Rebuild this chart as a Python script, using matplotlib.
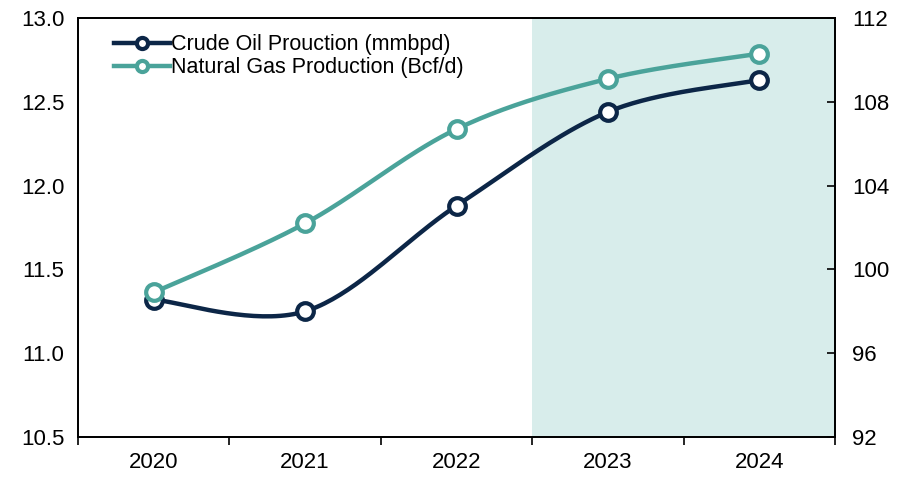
import numpy as np
import matplotlib
matplotlib.use("Agg")
import matplotlib.pyplot as plt
from matplotlib.lines import Line2D

plt.rcParams['font.family'] = ['Liberation Sans', 'DejaVu Sans']

# data
years = ["2020", "2021", "2022", "2023", "2024"]
crude_oil = [11.32, 11.25, 11.88, 12.44, 12.63]     # mmbpd, left axis
natural_gas = [98.9, 102.2, 106.7, 109.1, 110.3]    # Bcf/d, right axis
forecast_from = 3  # shaded region starts between 2022 and 2023

navy = "#0c2647"
teal = "#4aa39a"
shade = "#d8edeb"


def smooth(x, y, n=40):
    '''Excel-style smoothed line (Catmull-Rom through every point)'''
    p = np.column_stack([x, y]).astype(float)
    pts = np.vstack([p[0], p, p[-1]])
    out = []
    t = np.linspace(0, 1, n)[:, None]
    for i in range(1, len(pts) - 2):
        p0, p1, p2, p3 = pts[i - 1], pts[i], pts[i + 1], pts[i + 2]
        c1 = p1 + (p2 - p0) / 6
        c2 = p2 - (p3 - p1) / 6
        seg = ((1 - t) ** 3) * p1 + 3 * ((1 - t) ** 2) * t * c1 + 3 * (1 - t) * t ** 2 * c2 + t ** 3 * p2
        out.append(seg if i == 1 else seg[1:])
    out = np.vstack(out)
    return out[:, 0], out[:, 1]


fig = plt.figure(figsize=(8.98, 4.78), dpi=100)
ax = fig.add_axes([0.0869, 0.0858, 0.8431, 0.8765])
ax2 = ax.twinx()

x = np.arange(len(years))
ax.axvspan(forecast_from - 0.5, len(years) - 0.5, color=shade, lw=0, zorder=0)

sx, sy = smooth(x, crude_oil)
ax.plot(sx, sy, color=navy, lw=3.2, solid_capstyle='round', zorder=3)
ax.plot(x, crude_oil, 'o', ms=12, mfc='white', mec=navy, mew=3, zorder=4)

gx, gy = smooth(x, natural_gas)
ax2.plot(gx, gy, color=teal, lw=3.2, solid_capstyle='round', zorder=3)
ax2.plot(x, natural_gas, 'o', ms=12, mfc='white', mec=teal, mew=3, zorder=4)

ax.set_xlim(-0.5, len(years) - 0.5)
ax.set_ylim(10.5, 13.0)
ax.set_yticks(np.arange(10.5, 13.01, 0.5))
ax.set_yticklabels([f"{v:.1f}" for v in np.arange(10.5, 13.01, 0.5)])
ax2.set_ylim(92, 112)
ax2.set_yticks(np.arange(92, 113, 4))

ax.set_xticks(x)
ax.set_xticklabels(years)
ax.set_xticks(np.arange(-0.5, len(years)), minor=True)
ax.tick_params(axis='x', which='major', length=0, pad=11, labelsize=16)
ax.tick_params(axis='x', which='minor', length=6, width=1.2, direction='out')
ax.tick_params(axis='y', length=0, pad=10, labelsize=16)
ax2.tick_params(axis='y', length=6, width=1.2, direction='in', pad=12, labelsize=16)

for a in (ax, ax2):
    for s in a.spines.values():
        s.set_linewidth(1.3)
        s.set_color('black')

handles = [
    Line2D([], [], color=navy, lw=3.2, marker='o', ms=8, mfc='white', mec=navy, mew=3),
    Line2D([], [], color=teal, lw=3.2, marker='o', ms=8, mfc='white', mec=teal, mew=3),
]
ax2.legend(handles, ["Crude Oil Prouction (mmbpd)", "Natural Gas Production (Bcf/d)"],
           loc='upper left', bbox_to_anchor=(0.028, 0.997), frameon=False, fontsize=15.5,
           handlelength=2.6, handletextpad=0.05, labelspacing=0.08, borderaxespad=0.3)

fig.savefig("out.png", dpi=100)
